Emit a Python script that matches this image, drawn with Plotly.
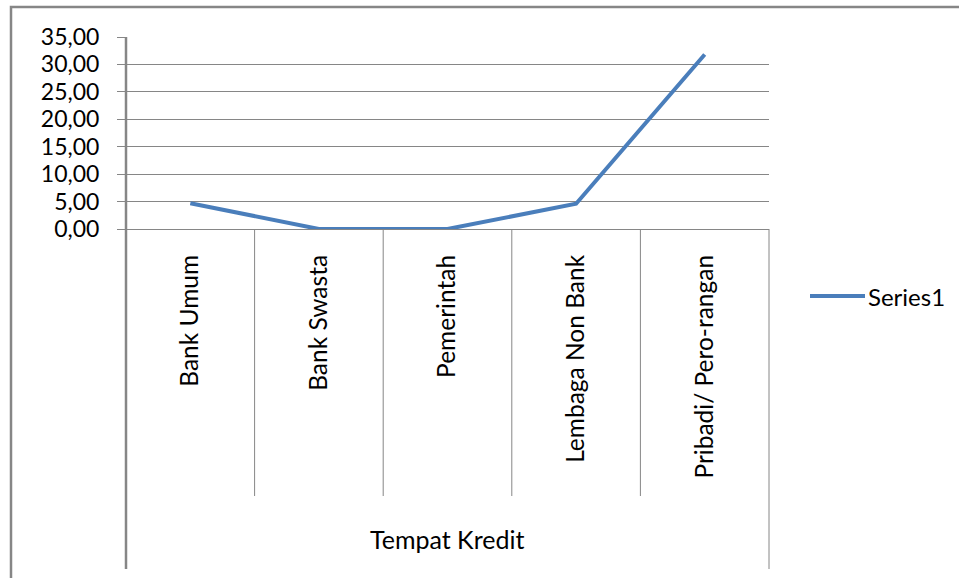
import plotly.graph_objects as go

categories = ["Bank Umum", "Bank Swasta", "Pemerintah", "Lembaga Non Bank", "Pribadi/ Pero-rangan"]
values = [4.7, 0.0, 0.0, 4.6, 31.8]
series_name = "Series1"
axis_title = "Tempat Kredit"
y_ticks = [0, 5, 10, 15, 20, 25, 30, 35]

W, H = 959, 578
L, R, T, B = 126, 769, 37, 229  # plot area in pixels
pw, ph = R - L, B - T

def px(x):
    return (x - L) / pw

def py(y):
    return (B - y) / ph

GRID = "#868686"
LINE = "#4a7ebb"
FONT = "Lato"

fig = go.Figure()
fig.add_trace(go.Scatter(x=categories, y=values, mode="lines", name=series_name,
                         line=dict(color=LINE, width=4), showlegend=False))

shapes = []
n = len(categories)
# outer chart border (rectangle running off the right and bottom edges)
shapes.append(dict(type="rect", xref="paper", yref="paper", x0=px(11), x1=px(W + 20),
                   y0=py(7), y1=py(H + 20), layer="below",
                   line=dict(color=GRID, width=2.5), fillcolor="rgba(0,0,0,0)"))
# category boundary separators below the axis
for i in range(1, n):
    shapes.append(dict(type="line", xref="paper", yref="paper", x0=i / n, x1=i / n,
                       y0=0, y1=py(496), line=dict(color=GRID, width=1)))
# right boundary line
shapes.append(dict(type="line", xref="paper", yref="paper", x0=1, x1=1,
                   y0=0, y1=py(569), line=dict(color=GRID, width=1)))
# left axis line, extended
shapes.append(dict(type="line", xref="paper", yref="paper", x0=0, x1=0,
                   y0=1, y1=py(569), line=dict(color=GRID, width=2.5)))
# legend line
shapes.append(dict(type="line", xref="paper", yref="paper", x0=px(810), x1=px(865),
                   y0=py(296), y1=py(296), line=dict(color=LINE, width=4)))

annotations = [
    dict(text=axis_title, xref="paper", yref="paper", x=px(447), y=py(539),
         showarrow=False, xanchor="center", yanchor="middle",
         font=dict(family=FONT, size=25, color="#000000")),
    dict(text=series_name, xref="paper", yref="paper", x=px(866), y=py(296),
         showarrow=False, xanchor="left", yanchor="middle",
         font=dict(family=FONT, size=24, color="#000000")),
]

fig.update_layout(
    width=W, height=H,
    margin=dict(l=L, r=W - R, t=T, b=H - B, pad=0),
    paper_bgcolor="white", plot_bgcolor="white",
    separators=",.",
    showlegend=False,
    shapes=shapes,
    annotations=annotations,
    font=dict(family=FONT, size=24, color="#000000"),
)
fig.update_xaxes(
    type="category", range=[-0.5, n - 0.5],
    showgrid=False, zeroline=False,
    showline=False,
    ticks="", tickangle=-90, ticklabelstandoff=20,
    tickfont=dict(family=FONT, size=24.5, color="#000000"),
)
fig.update_yaxes(
    range=[0, 35], tickvals=y_ticks, tickformat=".2f",
    showgrid=True, gridcolor=GRID, gridwidth=1,
    zeroline=True, zerolinecolor=GRID, zerolinewidth=1,
    showline=False,
    ticks="outside", ticklen=8, tickcolor=GRID, tickwidth=1,
    ticklabelstandoff=13,
    tickfont=dict(family=FONT, size=23, color="#000000"),
)

fig.write_html("out.html", config={"displayModeBar": False},
               post_script="document.body.style.margin='0';document.body.style.overflow='hidden';")
